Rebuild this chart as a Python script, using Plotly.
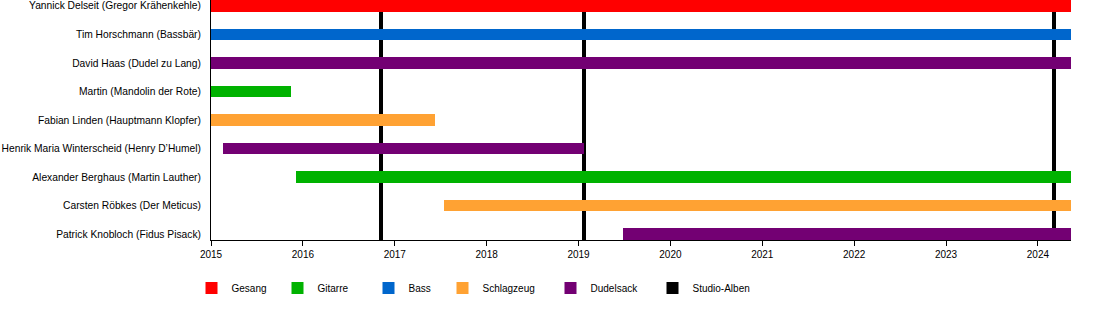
import plotly.graph_objects as go

# ---- data ----
members = [
    "Yannick Delseit (Gregor Krähenkehle)",
    "Tim Horschmann (Bassbär)",
    "David Haas (Dudel zu Lang)",
    "Martin (Mandolin der Rote)",
    "Fabian Linden (Hauptmann Klopfer)",
    "Henrik Maria Winterscheid (Henry D’Humel)",
    "Alexander Berghaus (Martin Lauther)",
    "Carsten Röbkes (Der Meticus)",
    "Patrick Knobloch (Fidus Pisack)",
]
instruments = ["Gesang", "Bass", "Dudelsack", "Gitarre", "Schlagzeug",
               "Dudelsack", "Gitarre", "Schlagzeug", "Dudelsack"]
END = 2024.36
starts = [2015.0, 2015.0, 2015.0, 2015.0, 2015.0, 2015.13, 2015.93, 2017.54, 2019.48]
ends = [END, END, END, 2015.87, 2017.44, 2019.06, END, END, END]
albums = [2016.85, 2019.06, 2024.175]
legend_order = ["Gesang", "Gitarre", "Bass", "Schlagzeug", "Dudelsack", "Studio-Alben"]
colors = {
    "Gesang": "#FF0000",
    "Gitarre": "#00B200",
    "Bass": "#0066CC",
    "Schlagzeug": "#FFA233",
    "Dudelsack": "#730073",
    "Studio-Alben": "#000000",
}
years = list(range(2015, 2025))

# ---- layout constants ----
W, H = 1100, 330
ML, MR, MT, MB = 211, 29, 0, 90
PW = W - ML - MR
PH = H - MT - MB
BARW = 0.41
n = len(members)
y_top = -BARW / 2
y_bot = (n - 1) + BARW / 2

legend_px = {"Gesang": 191.5, "Gitarre": 277.5, "Bass": 368.5,
             "Schlagzeug": 442.5, "Dudelsack": 550.5, "Studio-Alben": 652.5}
legend_ids = {name: ("legend" if i == 0 else f"legend{i+1}") for i, name in enumerate(legend_order)}

fig = go.Figure()

# studio albums as thin vertical bars (drawn first -> behind member bars)
fig.add_trace(go.Bar(
    x=albums, y=[y_bot - y_top] * len(albums), base=y_top,
    orientation="v", width=3.2 / (PW / (END - 2015)),
    marker=dict(color=colors["Studio-Alben"], line=dict(width=0)),
    name="Studio-Alben", legend=legend_ids["Studio-Alben"], hoverinfo="skip",
))

for inst in legend_order[:-1]:
    idx = [i for i, v in enumerate(instruments) if v == inst]
    fig.add_trace(go.Bar(
        y=idx,
        x=[ends[i] - starts[i] for i in idx],
        base=[starts[i] for i in idx],
        orientation="h", width=BARW,
        marker=dict(color=colors[inst], line=dict(width=0)),
        name=inst, legend=legend_ids[inst],
    ))

layout_kw = {}
for name in legend_order:
    layout_kw[legend_ids[name]] = dict(
        x=(legend_px[name] - ML) / PW, xanchor="left",
        y=(PH - 288) / PH, yanchor="middle",
        orientation="h", bgcolor="rgba(0,0,0,0)",
        font=dict(family="Liberation Sans, Arial, sans-serif", size=10, color="black"),
    )

fig.update_layout(
    width=W, height=H,
    margin=dict(l=ML, r=MR, t=MT, b=MB, pad=0),
    paper_bgcolor="white", plot_bgcolor="white",
    barmode="overlay", bargap=0,
    font=dict(family="Liberation Sans, Arial, sans-serif", size=10, color="black"),
    xaxis=dict(range=[2015, END], tickvals=years, ticktext=[str(y) for y in years],
               showgrid=False, zeroline=False, showline=True, linecolor="black",
               linewidth=1, ticks="outside", ticklen=5, tickcolor="black",
               tickfont=dict(size=10, color="black")),
    yaxis=dict(range=[y_bot, y_top], tickvals=list(range(n)), ticktext=members,
               showgrid=False, zeroline=False, showline=True, linecolor="black",
               linewidth=1, ticks="", ticklabelstandoff=7,
               tickfont=dict(size=10.25, color="black")),
    showlegend=True,
    **layout_kw,
)

fig.write_html("out.html")
